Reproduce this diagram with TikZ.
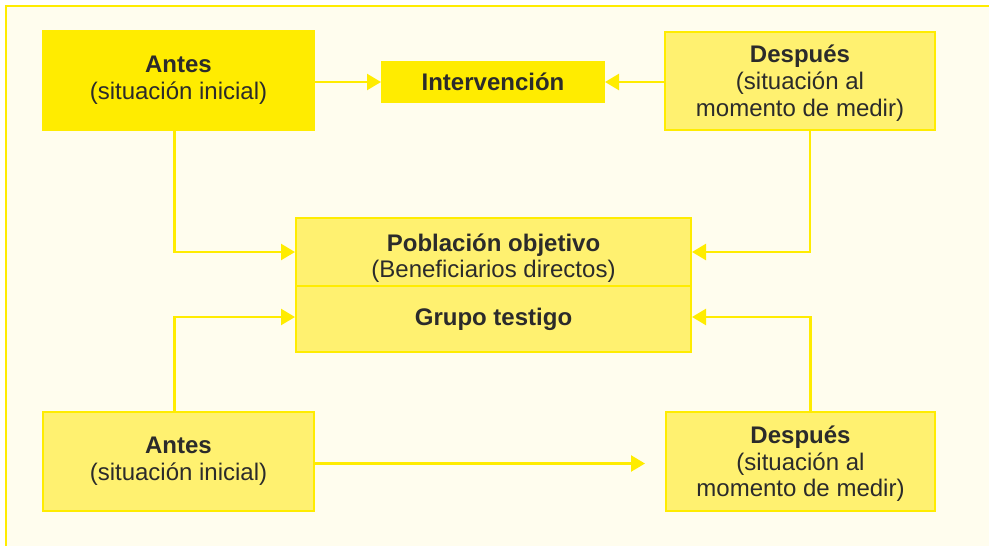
\documentclass[tikz,border=0pt]{standalone}
\usepackage{fontspec}
\setmainfont{Liberation Sans}
\usetikzlibrary{arrows.meta}

\definecolor{amarillo}{HTML}{FFEC00}
\definecolor{claro}{HTML}{FFF170}
\definecolor{crema}{HTML}{FFFDEE}
\definecolor{texto}{HTML}{2B2B2B}

\tikzset{
    caja/.style={draw=amarillo, line width=1pt, fill=claro, text=texto, align=center,
        inner sep=0pt, font=\fontsize{12}{13.3}\selectfont},
    cajafuerte/.style={caja, fill=amarillo},
    flecha/.style={draw=amarillo, line width=1.2pt, -{Triangle[length=7pt,width=8pt]}}
}

\begin{document}
\begin{tikzpicture}[x=0.5pt, y=-0.5pt]
            \useasboundingbox (0,0) rectangle (989,546);
            \fill[white] (0,0) rectangle (989,546);
            \fill[crema] (6,6) rectangle (989,546);
            \draw[amarillo, line width=1.2pt] (6,546) -- (6,6) -- (989,6);

            % fila de arriba
            \node[cajafuerte, minimum width=135.5pt, minimum height=49.5pt] (antesA) at (178.5,80.5)
                {\textbf{Antes}\\(situación inicial)};
            \node[cajafuerte, minimum width=111pt, minimum height=20pt] (interv) at (493,82)
                {\textbf{Intervención}};
            \node[caja, minimum width=135pt, minimum height=49pt] (despA) at (800,81)
                {\rule{0pt}{11pt}\textbf{Después}\\(situación al\\momento de medir)};

            % caja del centro
            \node[caja, minimum width=197.5pt, minimum height=34pt] (pobl) at (493.5,252)
                {\rule{0pt}{15pt}\textbf{Población objetivo}\\(Beneficiarios directos)};
            \node[caja, minimum width=197.5pt, minimum height=33pt] (grupo) at (493.5,319)
                {\textbf{Grupo testigo}};

            % fila de abajo
            \node[caja, minimum width=135.5pt, minimum height=49.5pt] (antesB) at (178.5,461.5)
                {\textbf{Antes}\\(situación inicial)};
            \node[caja, minimum width=134.5pt, minimum height=49.5pt] (despB) at (800.5,461.5)
                {\rule{0pt}{11pt}\textbf{Después}\\(situación al\\momento de medir)};

            \draw[flecha] (antesA.east |- interv) -- (interv.west);
            \draw[flecha] (despA.west |- interv) -- (interv.east);
            \draw[flecha] ([xshift=-2pt]antesA.south) |- (pobl.west);
            \draw[flecha] ([xshift=5pt]despA.south) |- (pobl.east);
            \draw[flecha] ([xshift=-2pt]antesB.north) |- ([yshift=1pt]grupo.west);
            \draw[flecha] ([xshift=5pt]despB.north) |- ([yshift=1pt]grupo.east);
            \draw[flecha, shorten >=10pt] ([yshift=-1pt]antesB.east) -- ([yshift=-1pt]despB.west);

        \end{tikzpicture}
\end{document}
